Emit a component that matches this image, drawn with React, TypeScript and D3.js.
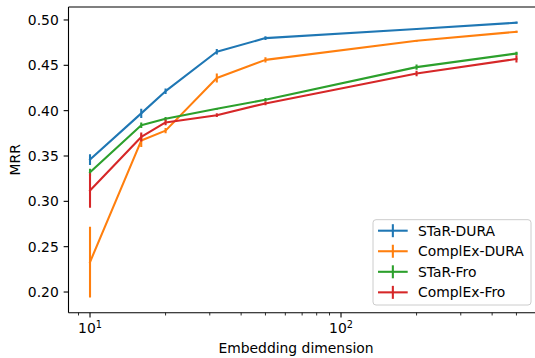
import React from "react";
import * as d3 from "d3";

const dims = [10, 16, 20, 32, 50, 200, 500];
const seriesNames = ["STaR-DURA", "ComplEx-DURA", "STaR-Fro", "ComplEx-Fro"];
const colors = ["#1f77b4", "#ff7f0e", "#2ca02c", "#d62728"];
const starDura = [0.346, 0.397, 0.4215, 0.465, 0.48, 0.49, 0.497];
const starDuraErr = [0.006, 0.005, 0.003, 0.003, 0.002, 0.001, 0.001];
const complexDura = [0.233, 0.367, 0.378, 0.436, 0.456, 0.477, 0.487];
const complexDuraErr = [0.039, 0.007, 0.003, 0.005, 0.003, 0.001, 0.001];
const starFro = [0.332, 0.384, 0.391, 0.402, 0.412, 0.448, 0.463];
const starFroErr = [0.004, 0.003, 0.002, 0.001, 0.002, 0.003, 0.002];
const complexFro = [0.312, 0.371, 0.387, 0.395, 0.408, 0.441, 0.457];
const complexFroErr = [0.019, 0.005, 0.003, 0.002, 0.002, 0.003, 0.004];
const yTicks = [0.2, 0.25, 0.3, 0.35, 0.4, 0.45, 0.5];
const xMajor = [10, 100];

const W = 535, H = 358;
const L = 68.5, R = 538, T = 7, B = 312.7;
const FONT = "DejaVu Sans, sans-serif";
const FS = 13.9;

export default function App() {
  const x = d3.scaleLog().domain([8.209, 609.3]).range([L, R]);
  const y = d3.scaleLinear().domain([0.1772, 0.5143]).range([B, T]);
  const values = [starDura, complexDura, starFro, complexFro];
  const errs = [starDuraErr, complexDuraErr, starFroErr, complexFroErr];
  const line = d3.line<[number, number]>().x(d => x(d[0])).y(d => y(d[1]));
  const minor: number[] = [];
  [1, 10, 100].forEach(base => {
    for (let k = 2; k <= 9; k++) {
      const v = base * k;
      if (v >= 8.209 && v <= 609.3 && v !== 10 && v !== 100) minor.push(v);
    }
  });
  const legX = 373, legY = 219.7, legW = 158, legH = 85.3;
  const rowY = (i: number) => 230.7 + i * 20.55;
  return (
    <svg width={W} height={H} style={{ position: "absolute", left: 0, top: 0, background: "#fff" }} fontFamily={FONT}>
      <rect x={0} y={0} width={W} height={H} fill="#fff" />
      <defs>
        <clipPath id="clip"><rect x={L} y={T} width={R - L} height={B - T} /></clipPath>
      </defs>
      <g clipPath="url(#clip)">
        {values.map((vals, si) => (
          <g key={si}>
            {vals.map((v, i) => (
              <line key={i} x1={x(dims[i])} x2={x(dims[i])} y1={y(v - errs[si][i])} y2={y(v + errs[si][i])}
                stroke={colors[si]} strokeWidth={2.08} />
            ))}
            <path d={line(dims.map((d, i) => [d, vals[i]] as [number, number])) || ""} fill="none"
              stroke={colors[si]} strokeWidth={2.08} strokeLinejoin="round" strokeLinecap="square" />
          </g>
        ))}
      </g>
      <g stroke="#000" strokeWidth={1.1} fill="none">
        <line x1={L} x2={L} y1={T} y2={B} />
        <line x1={R} x2={R} y1={T} y2={B} />
        <line x1={L} x2={R} y1={T} y2={T} />
        <line x1={L} x2={R} y1={B} y2={B} />
      </g>
      {yTicks.map(t => (
        <g key={t}>
          <line x1={L - 4.86} x2={L} y1={y(t)} y2={y(t)} stroke="#000" strokeWidth={1.1} />
          <text x={L - 9.7} y={y(t)} dy="0.36em" textAnchor="end" fontSize={FS} fill="#000">{t.toFixed(2)}</text>
        </g>
      ))}
      {minor.map(t => (
        <line key={t} x1={x(t)} x2={x(t)} y1={B} y2={B + 2.78} stroke="#000" strokeWidth={0.83} />
      ))}
      {xMajor.map((t, i) => (
        <g key={t}>
          <line x1={x(t)} x2={x(t)} y1={B} y2={B + 4.86} stroke="#000" strokeWidth={1.1} />
          <text x={x(t)} y={333} textAnchor="middle" fontSize={FS} fill="#000">
            10<tspan fontSize={FS * 0.7} dy={-5.5}>{i + 1}</tspan>
          </text>
        </g>
      ))}
      <text x={296} y={353} textAnchor="middle" fontSize={FS} fill="#000">Embedding dimension</text>
      <text transform={`translate(20,${(T + B) / 2}) rotate(-90)`} textAnchor="middle" fontSize={FS} fill="#000">MRR</text>
      <rect x={legX} y={legY} width={legW} height={legH} rx={3} fill="#fff" fillOpacity={0.8} stroke="#cccccc" strokeWidth={1} />
      {seriesNames.map((n, i) => (
        <g key={n}>
          <line x1={378} x2={407.7} y1={rowY(i)} y2={rowY(i)} stroke={colors[i]} strokeWidth={2.08} />
          <line x1={392.85} x2={392.85} y1={rowY(i) - 6.5} y2={rowY(i) + 6.5} stroke={colors[i]} strokeWidth={2.08} />
          <text x={418} y={rowY(i)} dy="0.36em" fontSize={FS} fill="#000">{n}</text>
        </g>
      ))}
    </svg>
  );
}
